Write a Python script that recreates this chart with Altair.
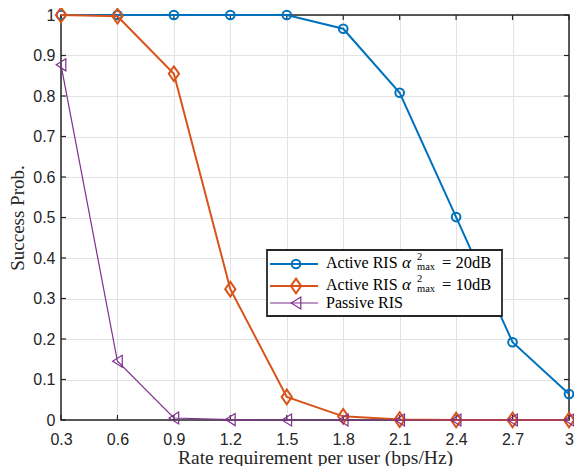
import altair as alt
import pandas as pd

# ---------------- data ----------------
x_vals = [0.3, 0.6, 0.9, 1.2, 1.5, 1.8, 2.1, 2.4, 2.7, 3.0]
active20 = [1.0, 1.0, 1.0, 1.0, 1.0, 0.966, 0.808, 0.501, 0.192, 0.064]
active10 = [1.0, 0.997, 0.855, 0.323, 0.057, 0.009, 0.001, 0.0, 0.0, 0.0]
passive = [0.877, 0.145, 0.005, 0.001, 0.0, 0.0, 0.0, 0.0, 0.0, 0.0]
series_names = ["Active RIS α²max = 20dB", "Active RIS α²max = 10dB", "Passive RIS"]
legend_main = ["Active RIS", "Active RIS", "Passive RIS"]
legend_alpha = ["α", "α", ""]
legend_sup = ["2", "2", ""]
legend_sub = ["max", "max", ""]
legend_tail = ["= 20dB", "= 10dB", ""]
colors = ["#0072BD", "#D95319", "#7E2F8E"]
x_ticks = [0.3, 0.6, 0.9, 1.2, 1.5, 1.8, 2.1, 2.4, 2.7, 3.0]
y_ticks = [0.0, 0.1, 0.2, 0.3, 0.4, 0.5, 0.6, 0.7, 0.8, 0.9, 1.0]

# ---------------- styles ----------------
W, H = 508, 405
INK = "#262626"
GRID = "#e3e3e3"
SERIF = "Liberation Serif"
SANS = "Liberation Sans"
DIAMOND = "M0,-1L0.7,0L0,1L-0.7,0Z"
TRI_LEFT = "M-0.8,0L0.8,-1L0.8,1Z"
shapes = ["circle", DIAMOND, TRI_LEFT]
sizes = [75, 215, 144]
widths = [2, 2, 1.2]

xs = alt.Scale(domain=[0.3, 3.0], nice=False, zero=False)
ys = alt.Scale(domain=[0, 1], nice=False, zero=False)

x_axis = alt.Axis(
    values=x_ticks, format=".1~f", grid=True, gridColor=GRID, gridWidth=1,
    ticks=False, domain=False, labelFont=SANS, labelFontSize=16,
    labelColor=INK, labelPadding=11, labelFlush=False, labelOverlap=False,
    title="Rate requirement per user (bps/Hz)", titleFont=SERIF,
    titleFontSize=19.5, titleFontWeight="normal", titleColor=INK,
    titleY=43, titleBaseline="alphabetic",
)
y_axis = alt.Axis(
    values=y_ticks, format=".1~f", grid=True, gridColor=GRID, gridWidth=1,
    ticks=False, domain=False, labelFont=SANS, labelFontSize=16,
    labelColor=INK, labelPadding=6, labelFlush=False, labelOverlap=False,
    title="Success Prob.", titleFont=SERIF, titleFontSize=19,
    titleFontWeight="normal", titleColor=INK, titleX=-38,
    titleBaseline="alphabetic",
)

X = lambda: alt.X("x:Q", scale=xs, axis=x_axis)
Y = lambda: alt.Y("y:Q", scale=ys, axis=y_axis)

one = pd.DataFrame({"a": [0]})

# frame
frame = alt.Chart(one).mark_rect(fill="transparent", stroke=INK, strokeWidth=1.5).encode(
    x=alt.value(0), x2=alt.value(W), y=alt.value(0), y2=alt.value(H)
)

# inward ticks
xt = pd.DataFrame({"x": x_ticks})
yt = pd.DataFrame({"y": y_ticks})
tick_layers = [
    alt.Chart(xt).mark_rule(color=INK, strokeWidth=1.2).encode(x=X(), y=alt.value(H), y2=alt.value(H - 5)),
    alt.Chart(xt).mark_rule(color=INK, strokeWidth=1.2).encode(x=X(), y=alt.value(0), y2=alt.value(5)),
    alt.Chart(yt).mark_rule(color=INK, strokeWidth=1.2).encode(y=Y(), x=alt.value(0), x2=alt.value(5)),
    alt.Chart(yt).mark_rule(color=INK, strokeWidth=1.2).encode(y=Y(), x=alt.value(W), x2=alt.value(W - 5)),
]

# data series
data_layers = []
for vals, c, sh, sz, lw in zip([active20, active10, passive], colors, shapes, sizes, widths):
    df = pd.DataFrame({"x": x_vals, "y": vals})
    base = alt.Chart(df).encode(x=X(), y=Y())
    data_layers.append(base.mark_line(color=c, strokeWidth=lw, clip=False))
    data_layers.append(base.mark_point(shape=sh, size=sz, color=c, strokeWidth=lw,
                                       filled=False, opacity=1, clip=False))

# legend (drawn manually)
LX0, LX1, LY0, LY1 = 206, 441, 235, 301
row_y = [249, 271, 288]
base_y = [253, 275, 293]


def txt(s, x, y, size, style="normal"):
    return alt.Chart(one).mark_text(text=s, font=SERIF, fontSize=size, fontStyle=style,
                                    color="black", align="left", baseline="alphabetic").encode(
        x=alt.value(x), y=alt.value(y))


legend_layers = [
    alt.Chart(one).mark_rect(fill="white", stroke=INK, strokeWidth=1.8).encode(
        x=alt.value(LX0), x2=alt.value(LX1), y=alt.value(LY0), y2=alt.value(LY1)
    )
]
for i in range(3):
    c, sh, sz, lw, ry, by = colors[i], shapes[i], sizes[i], widths[i], row_y[i], base_y[i]
    legend_layers.append(alt.Chart(one).mark_rule(color=c, strokeWidth=lw).encode(
        x=alt.value(LX0 + 3), x2=alt.value(LX0 + 51), y=alt.value(ry)))
    legend_layers.append(alt.Chart(one).mark_point(shape=sh, size=sz, color=c, strokeWidth=lw,
                                                   filled=False, opacity=1).encode(
        x=alt.value(LX0 + 29), y=alt.value(ry)))
    legend_layers.append(txt(legend_main[i], LX0 + 59, by, 16))
    if legend_alpha[i]:
        legend_layers.append(txt(legend_alpha[i], LX0 + 135, by, 17, "italic"))
        legend_layers.append(txt(legend_sup[i], LX0 + 150, by - 8, 10.5))
        legend_layers.append(txt(legend_sub[i], LX0 + 150, by + 1.5, 10.5))
        legend_layers.append(txt(legend_tail[i], LX0 + 175, by, 16.5))

chart = alt.layer(frame, *tick_layers, *data_layers, *legend_layers).properties(
    width=W, height=H,
    autosize=alt.AutoSizeParams(type="none"),
    padding={"left": 53, "top": 7, "right": 5, "bottom": 46},
).configure_view(stroke=None)

chart.save("out.html", embed_options={"renderer": "svg", "actions": False})
